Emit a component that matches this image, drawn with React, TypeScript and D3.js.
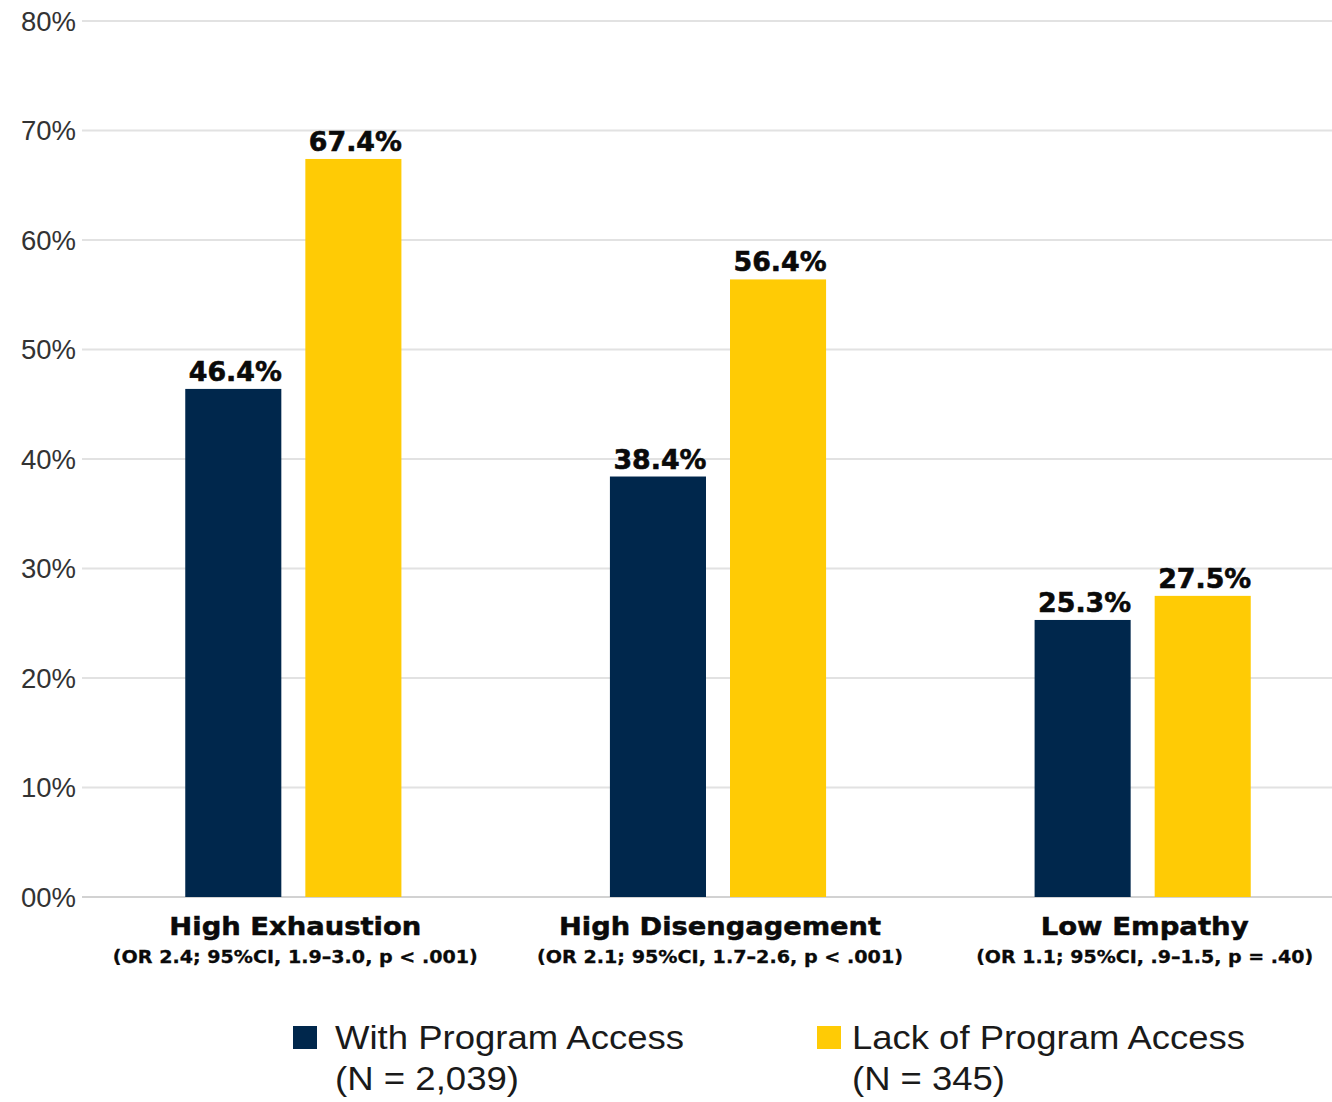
import React from 'react';
import * as d3 from 'd3';

const categories = ['High Exhaustion', 'High Disengagement', 'Low Empathy'];
const subtitles = [
  '(OR 2.4; 95%CI, 1.9–3.0, p < .001)',
  '(OR 2.1; 95%CI, 1.7–2.6, p < .001)',
  '(OR 1.1; 95%CI, .9–1.5, p = .40)',
];
const seriesKeys = ['with', 'lack'];
const seriesNames = ['With Program Access', 'Lack of Program Access'];
const seriesN = ['(N = 2,039)', '(N = 345)'];
const withAccess = [46.4, 38.4, 25.3];
const lackAccess = [67.4, 56.4, 27.5];
const yTicks = [0, 10, 20, 30, 40, 50, 60, 70, 80];

const COLORS = ['#00274C', '#FFCB05'];
const W = 1332;
const H = 1102;

// text width styles (reference appears horizontally stretched)
const catWidths = [252, 322, 208];
const subWidths = [365, 366, 337];
const legendTextWidths = [349, 393];
const legendNWidths = [184, 153];

export default function App() {
  const y = d3.scaleLinear().domain([0, 80]).range([897, 21]);
  const x0 = d3
    .scaleBand<string>()
    .domain(categories)
    .range([81, 1355])
    .paddingInner(0.491)
    .paddingOuter(0.2455);
  const x1 = d3
    .scaleBand<string>()
    .domain(seriesKeys)
    .range([0, x0.bandwidth()])
    .paddingInner(0.2);

  const values: Record<string, number[]> = { with: withAccess, lack: lackAccess };
  const fmtTick = (v: number) => (v === 0 ? '00%' : `${v}%`);
  const boldFont = '"DejaVu Sans", sans-serif';
  const regFont = '"Liberation Sans", Arial, sans-serif';

  return (
    <svg
      width={W}
      height={H}
      style={{ position: 'absolute', left: 0, top: 0, background: '#fff' }}
    >
      <rect x={0} y={0} width={W} height={H} fill="#fff" />
      {/* gridlines and y ticks */}
      {yTicks.map((t) => (
        <g key={t}>
          <line x1={82} x2={W} y1={y(t)} y2={y(t)} stroke={t === 0 ? '#d2d2d2' : '#e2e2e2'} strokeWidth={2} />
          <text
            x={76}
            y={y(t)}
            dy="0.36em"
            textAnchor="end"
            fontFamily={regFont}
            fontSize={27.5}
            fill="#333"
          >
            {fmtTick(t)}
          </text>
        </g>
      ))}

      {/* bars */}
      {categories.map((c, ci) => (
        <g key={c} transform={`translate(${x0(c)},0)`}>
          {seriesKeys.map((k, si) => {
            const v = values[k][ci];
            const bx = x1(k)!;
            const bw = x1.bandwidth();
            return (
              <g key={k}>
                <rect x={bx} y={y(v)} width={bw} height={y(0) - y(v)} fill={COLORS[si]} />
                <text
                  x={bx + bw / 2 + 2}
                  y={y(v) - 8}
                  textAnchor="middle"
                  fontFamily={boldFont}
                  fontWeight="bold"
                  fontSize={27}
                  textLength={93}
                  lengthAdjust="spacingAndGlyphs"
                  fill="#0a0a0a"
                  stroke="#0a0a0a"
                  strokeWidth={0.6}
                >
                  {`${v.toFixed(1)}%`}
                </text>
              </g>
            );
          })}
          <text
            x={x0.bandwidth() / 2 + 2}
            y={935}
            textAnchor="middle"
            fontFamily={boldFont}
            fontWeight="bold"
            fontSize={25}
            textLength={catWidths[ci]}
            lengthAdjust="spacingAndGlyphs"
            fill="#0a0a0a"
            stroke="#0a0a0a"
            strokeWidth={0.5}
          >
            {c}
          </text>
          <text
            x={x0.bandwidth() / 2 + 2}
            y={963}
            textAnchor="middle"
            fontFamily={boldFont}
            fontWeight="bold"
            fontSize={17.5}
            textLength={subWidths[ci]}
            lengthAdjust="spacingAndGlyphs"
            fill="#0a0a0a"
            stroke="#0a0a0a"
            strokeWidth={0.3}
          >
            {subtitles[ci]}
          </text>
        </g>
      ))}

      {/* legend */}
      {seriesNames.map((n, i) => {
        const lx = i === 0 ? 293 : 817;
        const tx = i === 0 ? 335 : 852;
        return (
          <g key={n}>
            <rect x={lx} y={1026} width={24} height={23} fill={COLORS[i]} />
            <text
              x={tx}
              y={1049}
              fontFamily={regFont}
              fontSize={33}
              textLength={legendTextWidths[i]}
              lengthAdjust="spacingAndGlyphs"
              fill="#1a1a1a"
            >
              {n}
            </text>
            <text
              x={tx}
              y={1090}
              fontFamily={regFont}
              fontSize={33}
              textLength={legendNWidths[i]}
              lengthAdjust="spacingAndGlyphs"
              fill="#1a1a1a"
            >
              {seriesN[i]}
            </text>
          </g>
        );
      })}
    </svg>
  );
}
